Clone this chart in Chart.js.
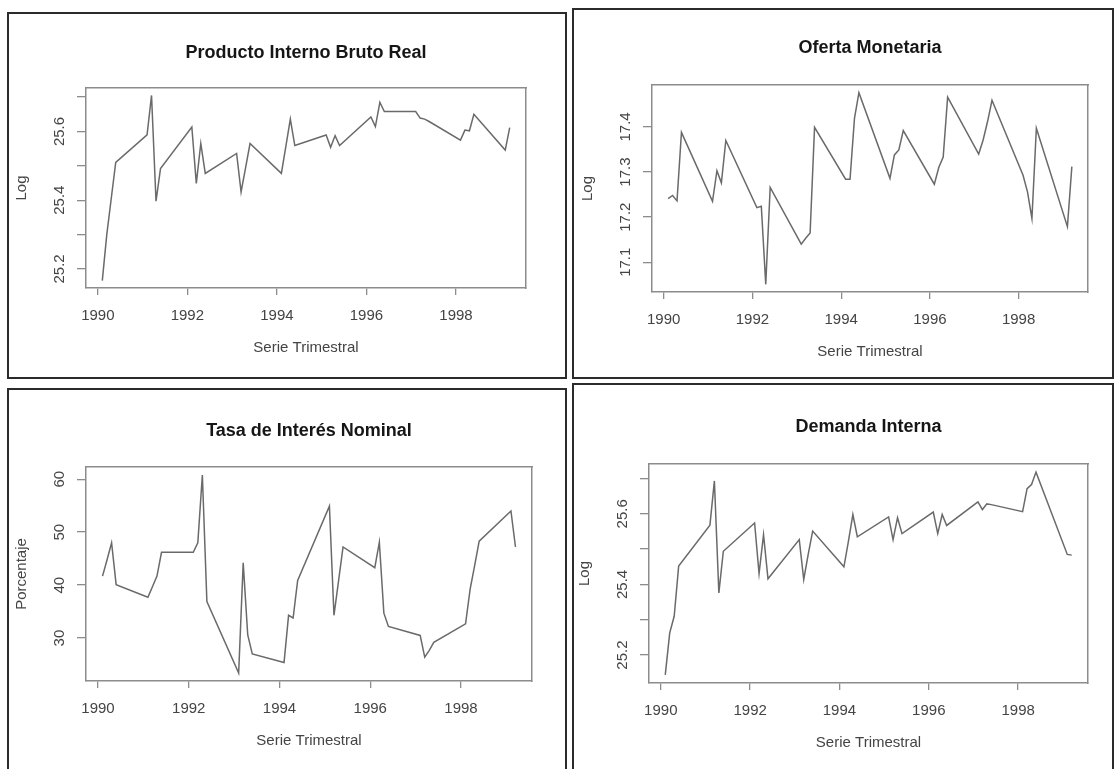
<!DOCTYPE html>
<html lang="es">
<head>
<meta charset="utf-8">
<title>Series trimestrales 1990-1999</title>
<script src="https://cdn.jsdelivr.net/npm/chart.js@4.4.1/dist/chart.umd.min.js"></script>
<style>
  html, body { margin: 0; padding: 0; background: #fff; }
  body { position: relative; width: 1114px; height: 769px; overflow: hidden; }
  .marco { position: absolute; box-sizing: border-box; border: 2px solid #2b2b2b; }
  canvas { position: absolute; }
</style>
</head>
<body>
<script>
// eje x: año + trimestre/10 (asi viene la serie original)
const trimestres = [
  1990.1, 1990.2, 1990.3, 1990.4, 1991.1, 1991.2, 1991.3, 1991.4,
  1992.1, 1992.2, 1992.3, 1992.4, 1993.1, 1993.2, 1993.3, 1993.4,
  1994.1, 1994.2, 1994.3, 1994.4, 1995.1, 1995.2, 1995.3, 1995.4,
  1996.1, 1996.2, 1996.3, 1996.4, 1997.1, 1997.2, 1997.3, 1997.4,
  1998.1, 1998.2, 1998.3, 1998.4, 1999.1, 1999.2,
];

const pibReal = [
  25.166, 25.300, 25.405, 25.510, 25.590, 25.705, 25.397, 25.492,
  25.613, 25.449, 25.565, 25.478, 25.536, 25.424, 25.494, 25.565,
  25.478, 25.557, 25.636, 25.559, 25.590, 25.554, 25.588, 25.559,
  25.642, 25.614, 25.685, 25.658, 25.658, 25.639, 25.636, 25.629,
  25.575, 25.604, 25.602, 25.650, 25.546, 25.611,
];

const ofertaMonetaria = [
  17.241, 17.248, 17.236, 17.388, 17.235, 17.303, 17.276, 17.370,
  17.221, 17.224, 17.051, 17.266, 17.140, 17.153, 17.165, 17.399,
  17.284, 17.284, 17.419, 17.476, 17.286, 17.338, 17.349, 17.392,
  17.273, 17.310, 17.333, 17.466, 17.340, 17.371, 17.412, 17.459,
  17.293, 17.256, 17.197, 17.397, 17.179, 17.312,
];

const tasaInteres = [
  41.7, 44.8, 48.0, 40.1, 37.7, 39.7, 41.7, 46.2,
  46.2, 48.0, 60.8, 36.9, 23.4, 44.2, 30.6, 27.0,
  25.4, 34.3, 33.8, 40.9, 54.9, 34.3, 40.7, 47.2,
  43.3, 48.1, 34.7, 32.2, 30.5, 26.4, 27.7, 29.2,
  32.7, 39.2, 43.7, 48.3, 54.0, 47.2,
];

const demandaInterna = [
  25.144, 25.263, 25.310, 25.452, 25.568, 25.693, 25.376, 25.494,
  25.574, 25.431, 25.541, 25.416, 25.527, 25.414, 25.485, 25.551,
  25.450, 25.522, 25.598, 25.535, 25.591, 25.527, 25.589, 25.544,
  25.605, 25.544, 25.598, 25.567, 25.634, 25.612, 25.628, 25.626,
  25.606, 25.671, 25.683, 25.718, 25.485, 25.483,
];

const ticksX = [1990, 1992, 1994, 1996, 1998];
const ticksLog = [25.2, 25.3, 25.4, 25.5, 25.6, 25.7];
const etiquetasLog = [25.2, 25.4, 25.6];
const ticksOferta = [17.1, 17.2, 17.3, 17.4];
const ticksTasa = [30, 40, 50, 60];

const FUENTE = "'Liberation Sans', Arial, Helvetica, sans-serif";
const COLOR_LINEA = "#6a6a6a";
const COLOR_CAJA = "#8c8c8c";
const COLOR_TEXTO = "#444";

// limites como los pone R: 4% extra a cada lado del rango
function rangoR(valores) {
  const min = Math.min(...valores);
  const max = Math.max(...valores);
  const extra = (max - min) * 0.04;
  return [min - extra, max + extra];
}

// marco y caja: [izq, arriba, der, abajo] en pixeles de la pagina
const paneles = [
  {
    titulo: "Producto Interno Bruto Real", ylab: "Log", serie: pibReal,
    yTicks: ticksLog, yEtiquetas: etiquetasLog, decimales: 1,
    marco: [7, 12, 567, 379], caja: [86, 88, 526, 288], tituloY: 53, anchoEtiqueta: 29,
  },
  {
    titulo: "Oferta Monetaria", ylab: "Log", serie: ofertaMonetaria,
    yTicks: ticksOferta, yEtiquetas: ticksOferta, decimales: 1,
    marco: [572, 8, 1114, 379], caja: [652, 85, 1088, 292], tituloY: 48, anchoEtiqueta: 29,
  },
  {
    titulo: "Tasa de Interés Nominal", ylab: "Porcentaje", serie: tasaInteres,
    yTicks: ticksTasa, yEtiquetas: ticksTasa, decimales: 0,
    marco: [7, 388, 567, 800], caja: [86, 467, 532, 681], tituloY: 431, anchoEtiqueta: 17,
  },
  {
    titulo: "Demanda Interna", ylab: "Log", serie: demandaInterna,
    yTicks: ticksLog, yEtiquetas: etiquetasLog, decimales: 1,
    marco: [572, 383, 1114, 800], caja: [649, 464, 1088, 683], tituloY: 427, anchoEtiqueta: 29,
  },
];

const fuenteEje = { family: FUENTE, size: 15, lineHeight: 1.2 };
const rejillaX = { drawOnChartArea: false, drawTicks: true, tickLength: 7, color: COLOR_CAJA, lineWidth: 1.3 };
const rejillaY = { drawOnChartArea: false, drawTicks: true, tickLength: 9, color: COLOR_CAJA, lineWidth: 1.3 };
const borde = { display: true, color: COLOR_CAJA, width: 1.5 };

paneles.forEach((p) => {
  const [mL, mT, mR, mB] = p.marco;
  const marco = document.createElement("div");
  marco.className = "marco";
  marco.style.left = mL + "px";
  marco.style.top = mT + "px";
  marco.style.width = mR - mL + "px";
  marco.style.height = mB - mT + "px";
  document.body.appendChild(marco);

  const cx = mL + 2;
  const cy = mT + 2;
  const ancho = mR - mL - 4;
  const alto = mB - mT - 4;
  const canvas = document.createElement("canvas");
  canvas.width = ancho;
  canvas.height = alto;
  canvas.style.left = cx + "px";
  canvas.style.top = cy + "px";
  canvas.style.width = ancho + "px";
  canvas.style.height = alto + "px";
  document.body.appendChild(canvas);

  const [bL, bT, bR, bB] = p.caja;
  const anchoEjeY = bL - cx;
  const altoEjeX = alto - (bB - cy);
  const padDerecho = ancho - (bR - cx);
  const tituloTop = p.tituloY - cy - 10.8;
  const tituloBottom = bT - cy - tituloTop - 21.6;
  const xlabY = bB + 60;
  const ylabX = bL - 64;
  const [yMin, yMax] = rangoR(p.serie);
  const [xMin, xMax] = rangoR(trimestres);

  new Chart(canvas.getContext("2d"), {
    type: "line",
    data: {
      datasets: [
        {
          data: trimestres.map((t, k) => ({ x: t, y: p.serie[k] })),
          borderColor: COLOR_LINEA,
          borderWidth: 1.5,
          pointRadius: 0,
          tension: 0,
          fill: false,
        },
      ],
    },
    options: {
      responsive: false,
      animation: false,
      devicePixelRatio: 1,
      layout: { padding: { left: 0, top: 0, right: padDerecho, bottom: 0 } },
      plugins: {
        legend: { display: false },
        tooltip: { enabled: false },
        title: {
          display: true,
          text: p.titulo,
          fullSize: false,
          color: "#161616",
          font: { family: FUENTE, size: 18, weight: "bold", lineHeight: 1.2 },
          padding: { top: tituloTop, bottom: tituloBottom },
        },
      },
      scales: {
        x: {
          type: "linear",
          position: "bottom",
          min: xMin,
          max: xMax,
          bounds: "data",
          afterBuildTicks: (eje) => {
            eje.ticks = ticksX.map((v) => ({ value: v }));
          },
          afterFit: (eje) => {
            eje.height = altoEjeX;
          },
          ticks: {
            autoSkip: false,
            maxRotation: 0,
            padding: 12,
            color: COLOR_TEXTO,
            font: fuenteEje,
            callback: (v) => String(v),
          },
          grid: rejillaX,
          border: borde,
          title: {
            display: true,
            text: "Serie Trimestral",
            color: COLOR_TEXTO,
            font: fuenteEje,
            padding: { top: 0, bottom: alto - (xlabY - cy) - 9 },
          },
        },
        y: {
          type: "linear",
          position: "left",
          min: yMin,
          max: yMax,
          bounds: "data",
          afterBuildTicks: (eje) => {
            eje.ticks = p.yTicks.map((v) => ({ value: v }));
          },
          afterFit: (eje) => {
            eje.width = anchoEjeY;
          },
          ticks: {
            autoSkip: false,
            minRotation: 90,
            maxRotation: 90,
            crossAlign: "center",
            padding: 26 - 9 - p.anchoEtiqueta / 2,
            color: COLOR_TEXTO,
            font: fuenteEje,
            callback: (v) => (p.yEtiquetas.includes(v) ? v.toFixed(p.decimales) : ""),
          },
          grid: rejillaY,
          border: borde,
          title: {
            display: true,
            text: p.ylab,
            color: COLOR_TEXTO,
            font: fuenteEje,
            padding: { top: ylabX - cx - 9, bottom: 0 },
          },
        },
        x2: {
          type: "linear",
          position: "top",
          min: 0,
          max: 1,
          afterFit: (eje) => {
            eje.height = 0;
          },
          ticks: { display: false },
          grid: { display: false, drawTicks: false },
          border: borde,
        },
        y2: {
          type: "linear",
          position: "right",
          min: 0,
          max: 1,
          afterFit: (eje) => {
            eje.width = 0;
          },
          ticks: { display: false },
          grid: { display: false, drawTicks: false },
          border: borde,
        },
      },
    },
  });
});
</script>
</body>
</html>
